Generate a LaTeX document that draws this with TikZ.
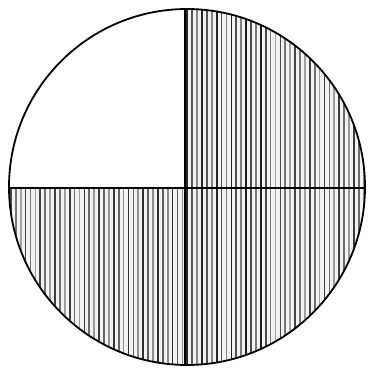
\documentclass[tikz,border=0pt]{standalone}
\begin{document}
\begin{tikzpicture}[x=1pt,y=-1pt,
  rim/.style={draw=black, line width=1.8pt},
  divider/.style={draw=black, line width=2.2pt},
  hatch/.style={line width=1.7pt}]
\useasboundingbox (0,0) rectangle (376,369);
\coordinate (c) at (187,187);
\coordinate (top) at (185,9);
\coordinate (bot) at (185,365);
\coordinate (lft) at (9,188);
\coordinate (rgt) at (365,188);
\begin{scope}
  \clip (c) circle (178);
  \clip (185,0) -- (376,0) -- (376,369) -- (0,369) -- (0,188) -- (185,188) -- cycle;
  \fill[black!5] (0,0) rectangle (376,369);
  \foreach \i in {0,...,75} {
    \pgfmathsetmacro{\g}{int(35+mod(\i*37,55))}
    \draw[hatch, draw=black!\g] (6+\i*4.9,0) -- (6+\i*4.9,369);
  }
\end{scope}
\draw[rim] (c) circle (178);
\draw[divider] (top) -- (bot);
\draw[divider] (lft) -- (rgt);
\end{tikzpicture}
\end{document}
